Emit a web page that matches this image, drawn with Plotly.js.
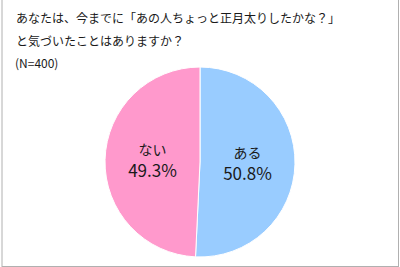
<!DOCTYPE html>
<html>
<head>
<meta charset="utf-8">
<script src="https://cdn.plot.ly/plotly-3.0.1.min.js"></script>
<style>html,body{margin:0;padding:0;background:#fff;}#chart{width:400px;height:267px;}</style>
</head>
<body>
<div id="chart"></div>
<script>
const labels = ["ある", "ない"];
const values = [50.8, 49.3];
const colors = ["#99CCFF", "#FF99CC"];
const titleLines = ["あなたは、今までに「あの人ちょっと正月太りしたかな？」", "と気づいたことはありますか？"];
const sampleNote = "(N=400)";

const font = "'Noto Sans CJK JP', 'Noto Sans', sans-serif";

const data = [{
  type: "pie",
  labels: labels,
  values: values,
  sort: false,
  direction: "clockwise",
  rotation: 0,
  marker: {colors: colors, line: {color: "#ffffff", width: 1}},
  textinfo: "text",
  texttemplate: "<span style='font-size:14px'>%{label}</span><br>%{value}%",
  textposition: "inside",
  insidetextorientation: "horizontal",
  insidetextfont: {family: font, size: 17, color: "#1a1a1a"},
  hoverinfo: "none",
  showlegend: false,
  domain: {x: [0.2625, 0.7375], y: [0.0375, 0.749]}
}];

const layout = {
  width: 400, height: 267,
  margin: {l: 0, r: 0, t: 0, b: 0},
  paper_bgcolor: "#ffffff",
  showlegend: false,
  annotations: [
    {text: titleLines[0], xref: "paper", yref: "paper", x: 14/400, y: 1 - 18/267, xanchor: "left", yanchor: "middle", showarrow: false, font: {family: font, size: 12, color: "#1a1a1a"}},
    {text: titleLines[1], xref: "paper", yref: "paper", x: 14/400, y: 1 - 41/267, xanchor: "left", yanchor: "middle", showarrow: false, font: {family: font, size: 12, color: "#1a1a1a"}},
    {text: sampleNote, xref: "paper", yref: "paper", x: 13/400, y: 1 - 62/267, xanchor: "left", yanchor: "middle", showarrow: false, font: {family: font, size: 12, color: "#1a1a1a"}}
  ],
  shapes: [
    {type: "line", xref: "paper", yref: "paper", x0: 2/400, x1: 2/400, y0: 0, y1: 1, line: {color: "#b0b0b0", width: 1}},
    {type: "line", xref: "paper", yref: "paper", x0: 398.5/400, x1: 398.5/400, y0: 0, y1: 1, line: {color: "#b0b0b0", width: 1}},
    {type: "line", xref: "paper", yref: "paper", x0: 2/400, x1: 398.5/400, y0: 0.5/267, y1: 0.5/267, line: {color: "#b0b0b0", width: 1}}
  ]
};

Plotly.newPlot("chart", data, layout, {displayModeBar: false, staticPlot: true});
</script>
</body>
</html>
